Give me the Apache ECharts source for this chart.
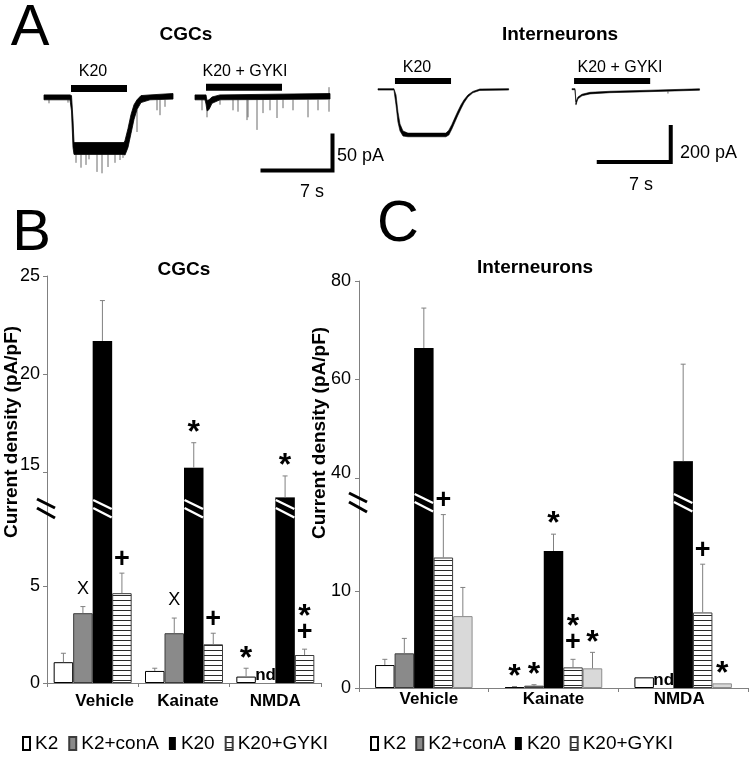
<!DOCTYPE html>
<html><head><meta charset="utf-8">
<script src="https://cdn.jsdelivr.net/npm/echarts@6/dist/echarts.min.js"></script>
<style>html,body{margin:0;padding:0;background:#fff}#c{width:750px;height:760px}</style>
</head><body><div id="c"></div>
<script>
// ================= DATA =================
// ---- Panel A: recordings. Bands are [time s, upper edge pA, lower edge pA]; minis are [time s, from pA, to pA]
const cgcK20Trace = [[0,3,-4],[2.6,3,-4],[2.75,2,-20],[2.9,-33,-72],[3.0,-65,-82],[8.0,-65,-82],[8.1,-62,-83],[8.4,-45,-72],[8.7,-25,-52],[9.0,-11,-32],[9.3,-4,-18],[9.7,2,-8],[10.6,3,-4],[12.9,5,-3]];
const cgcK20Minis = [[0.5,-4,-9],[2.4,-4,-8],[3.2,-82,-94],[3.7,-82,-101],[4.2,-82,-97],[4.5,-82,-89],[5.3,-82,-107],[5.8,-82,-109],[6.4,-82,-100],[7.1,-82,-94],[7.6,-82,-90],[7.9,-82,-87],[9.3,-18,-50],[11.3,-4,-19],[11.6,-4,-26],[12.1,-4,-14]];
const cgcGykiTrace = [[0,3,-4],[1.0,3,-4],[1.1,3,-10],[1.2,-5,-20],[1.4,-4,-18],[1.7,0,-9],[2.5,3,-4],[13.5,5,-3]];
const cgcGykiMinis = [[0.7,-4,-19],[1.2,-20,-29],[2.5,-4,-11],[3.8,-4,-19],[4.3,-4,-21],[5.2,-4,-33],[5.3,-4,-29],[6.2,-4,-47],[6.8,-4,-23],[7.5,-4,-19],[8.2,-4,-30],[8.8,-4,-16],[9.8,-4,-19],[11.3,-4,-29],[12.3,-4,-19],[13.4,-4,-21],[13.4,3,14]];
const intK20Trace = [[0,2,-6],[1.55,2,-6],[1.75,-34,-91],[1.94,-131,-189],[2.14,-200,-240],[2.43,-240,-269],[2.91,-252,-273],[6.6,-252,-273],[6.89,-235,-263],[7.18,-203,-229],[7.48,-163,-189],[7.77,-126,-150],[8.06,-91,-114],[8.35,-63,-80],[8.74,-34,-46],[9.22,-14,-22],[9.9,0,-8],[12.7,2,-6]];
const intGykiTrace = [[0,2,-4],[0.29,2,-4],[0.39,-72,-88],[0.58,-46,-56],[0.97,-30,-39],[1.75,-19,-28],[3.69,-13,-21],[7.58,-7,-15],[12.4,1,-7]];
const intGykiMinis = [[0.39,-80,-92],[9.33,-14,-26]];
// drug application bars: [start s, end s, level pA]
const stimCgcK20 = [2.7, 8.3, 12];
const stimCgcGyki = [1.1, 8.7, 14];
const stimIntK20 = [1.65, 7.1, 46];
const stimIntGyki = [0.2, 7.6, 46];
// scale bars (7 s, 50 pA / 200 pA)
const scaleCgc = [[6.75,-105],[13.75,-105],[13.75,-55]];
const scaleInt = [[2.6,-417],[9.6,-417],[9.6,-217]];

// ---- Panel B: CGCs (pA/pF)
const catsB = ['Vehicle', 'Kainate', 'NMDA'];
const groupsB = ['K2', 'K2+conA', 'K20', 'K20+GYKI'];
const meanB_K2 = [1.07, 0.62, 0.33];
const errB_K2 = [0.46, 0.14, 0.43];
const meanB_conA = [3.59, 2.56, null];
const errB_conA = [0.34, 0.78, null];
const meanB_K20 = [21.7, 15.25, 13.74];
const errB_K20 = [2.05, 1.27, 1.09];
const meanB_GYKI = [4.62, 1.99, 1.44];
const errB_GYKI = [1.03, 0.57, 0.30];
const markB_K2 = ['', '', '*'];
const markB_conA = ['X', 'X', 'nd'];
const markB_K20 = ['', '*', '*'];
const markB_GYKI = ['+', '+', '*+'];
const ticksB_low = [0, 5];
const ticksB_high = [15, 20, 25];
const rangeB_low = [0, 9];
const rangeB_high = [13.2, 25];

// ---- Panel C: Interneurons (pA/pF)
const catsC = ['Vehicle', 'Kainate', 'NMDA'];
const groupsC = ['K2', 'K2+conA', 'K20', 'K20+GYKI', 'NMDA'];
const meanC_K2 = [2.37, 0.1, 1.1];
const errC_K2 = [0.59, 0.05, 0];
const meanC_conA = [3.58, 0.24, null];
const errC_conA = [1.54, 0.1, null];
const meanC_K20 = [66.4, 14.15, 43.4];
const errC_K20 = [8.1, 1.73, 19.7];
const meanC_GYKI = [13.47, 2.13, 7.8];
const errC_GYKI = [4.43, 0.83, 4.98];
const meanC_NMDA = [7.42, 2.03, 0.48];
const errC_NMDA = [2.96, 1.65, 0];
const markC_K2 = ['', '*', ''];
const markC_conA = ['', '*', 'nd'];
const markC_K20 = ['', '*', ''];
const markC_GYKI = ['+', '*+', '+'];
const markC_NMDA = ['', '*', '*'];
const ticksC_low = [0, 10];
const ticksC_high = [40, 60, 80];
const rangeC_low = [0, 19.2];
const rangeC_high = [35.1, 80];

// ================= STYLE / LAYOUT =================
const FF = '"Liberation Sans", Arial, Helvetica, sans-serif';
// label nudges (layout only): category label shift in px, raised tick labels in px
const catShiftB = { 'Vehicle': 12, 'Kainate': 4 };
const catShiftC = { 'Vehicle': 5, 'NMDA': -4 };
const tickRaiseB = { 15: 8 };
const tickRaiseC = { 40: 5 };

const stripe = document.createElement('canvas');
stripe.width = 4; stripe.height = 5;
(function(){ const g = stripe.getContext('2d'); g.fillStyle = '#fff'; g.fillRect(0,0,4,5); g.fillStyle = '#2a2a2a'; g.fillRect(0,0,4,1); })();
const barStyle = {
  'K2': { color: '#ffffff', borderColor: '#000', borderWidth: 1 },
  'K2+conA': { color: '#8a8a8a', borderColor: '#3c3c3c', borderWidth: 1 },
  'K20': { color: '#000000', borderColor: '#000', borderWidth: 0 },
  'K20+GYKI': { color: { image: stripe, repeat: 'repeat' }, borderColor: '#3c3c3c', borderWidth: 1 },
  'NMDA': { color: '#d9d9d9', borderColor: '#8c8c8c', borderWidth: 1 }
};
const MF = {
  '*': 'bold 32px ' + FF,
  '+': 'bold 27px ' + FF,
  'X': 'normal 18px ' + FF,
  'nd': 'bold 17px ' + FF
};
const LIFT = { '*': 9.5, '+': 14, 'X': 18 };

function seg(x1, y1, x2, y2, stroke, w) {
  return { type: 'line', shape: { x1, y1, x2, y2 }, style: { stroke, lineWidth: w } };
}
function txt(s, x, y, font) {
  return { type: 'text', style: { text: s, x, y, font, fill: '#000', textAlign: 'center', textVerticalAlign: 'middle', align: 'center', verticalAlign: 'middle' } };
}

// ================= PANEL A SERIES =================
function bandS(gi, data, lw) {
  return { type: 'custom', xAxisIndex: gi, yAxisIndex: gi, silent: true, z: 3,
    data: data.map(d => [d[0], d[1]]),
    renderItem(params, api) {
      if (params.dataIndex !== 0) return { type: 'group', children: [] };
      const up = data.map(d => api.coord([d[0], d[1]]));
      const dn = data.slice().reverse().map(d => api.coord([d[0], d[2]]));
      return { type: 'polygon', shape: { points: up.concat(dn) }, style: { fill: '#000', stroke: '#000', lineWidth: lw } };
    } };
}
function minisS(gi, data) {
  return { type: 'custom', xAxisIndex: gi, yAxisIndex: gi, silent: true, z: 2,
    data: data.map(d => [d[0], d[2]]),
    renderItem(params, api) {
      const m = data[params.dataIndex];
      const a = api.coord([m[0], m[1]]), b = api.coord([m[0], m[2]]);
      return seg(a[0], a[1], b[0], b[1], '#6a6a6a', 1);
    } };
}
function stimS(gi, s, w) {
  return { type: 'line', xAxisIndex: gi, yAxisIndex: gi, silent: true, symbol: 'none',
    data: [[s[0], s[2]], [s[1], s[2]]], lineStyle: { color: '#000', width: w, cap: 'butt' } };
}
function scaleS(gi, d) {
  return { type: 'line', xAxisIndex: gi, yAxisIndex: gi, silent: true, symbol: 'none',
    data: d, lineStyle: { color: '#000', width: 4, join: 'miter', cap: 'square' } };
}

// ================= PANELS B / C =================
const PB = { id: 'B', gridLow: 4, gridHigh: 5, cats: catsB, groups: groupsB,
  means: [meanB_K2, meanB_conA, meanB_K20, meanB_GYKI], errs: [errB_K2, errB_conA, errB_K20, errB_GYKI],
  marks: [markB_K2, markB_conA, markB_K20, markB_GYKI], lowMax: rangeB_low[1], barW: 19.5 };
const PC = { id: 'C', gridLow: 6, gridHigh: 7, cats: catsC, groups: groupsC,
  means: [meanC_K2, meanC_conA, meanC_K20, meanC_GYKI, meanC_NMDA], errs: [errC_K2, errC_conA, errC_K20, errC_GYKI, errC_NMDA],
  marks: [markC_K2, markC_conA, markC_K20, markC_GYKI, markC_NMDA], lowMax: rangeC_low[1], barW: 19.5 };

function deco(P, part) {
  const items = [];
  P.groups.forEach((g, bi) => P.cats.forEach((c, ci) => items.push({ ci, bi, mean: P.means[bi][ci], err: P.errs[bi][ci], mark: P.marks[bi][ci] })));
  const gi = part === 'low' ? P.gridLow : P.gridHigh;
  return { type: 'custom', xAxisIndex: gi, yAxisIndex: gi, silent: true, z: 5,
    data: items.map(it => [it.ci, it.mean == null ? 0 : it.mean]),
    renderItem(params, api) {
      const it = items[params.dataIndex];
      const cs = params.coordSys;
      const n = P.groups.length;
      const cx = api.coord([it.ci, 0])[0] + (it.bi - (n - 1) / 2) * P.barW;
      const kids = [];
      if (part === 'low' && params.dataIndex === 0) {
        kids.push(seg(cs.x - 10, cs.y - 9, cs.x + 8, cs.y, '#000', 3));
        kids.push(seg(cs.x - 10, cs.y, cs.x + 8, cs.y + 10, '#000', 3));
      }
      if (it.mean == null) {
        if (part === 'low' && it.mark) kids.push(txt(it.mark, cx, api.coord([it.ci, 0])[1] - 8, MF.nd));
        return { type: 'group', children: kids };
      }
      const high = it.mean > P.lowMax;
      if (part === 'low' && high) {
        const L = cx - P.barW / 2 + 0.5, R = cx + P.barW / 2 - 0.5;
        kids.push(seg(L, cs.y - 8, R, cs.y + 1, '#fff', 2.5));
        kids.push(seg(L, cs.y, R, cs.y + 9.5, '#fff', 2.5));
      }
      if ((part === 'high') === high) {
        const yBar = api.coord([it.ci, it.mean])[1];
        const yTop = api.coord([it.ci, it.mean + it.err])[1];
        if (it.err > 0) {
          kids.push(seg(cx, yBar, cx, yTop, '#808080', 1));
          kids.push(seg(cx - 2.5, yTop, cx + 2.5, yTop, '#808080', 1));
        }
        if (it.mark === '*+') {
          kids.push(txt('+', cx, yTop - 17, MF['+']));
          kids.push(txt('*', cx, yTop - 32, MF['*']));
        } else if (it.mark) {
          kids.push(txt(it.mark, cx, yTop - LIFT[it.mark], MF[it.mark]));
        }
      }
      return { type: 'group', children: kids };
    } };
}
function panelSeries(P) {
  const out = [];
  P.groups.forEach((g, bi) => {
    const st = barStyle[g];
    out.push({ type: 'bar', name: P.id + ':' + g, xAxisIndex: P.gridLow, yAxisIndex: P.gridLow, silent: true,
      data: P.means[bi].map(v => v == null ? '-' : v), barWidth: P.barW, barGap: '0%', itemStyle: st });
    out.push({ type: 'bar', name: P.id + ':' + g, xAxisIndex: P.gridHigh, yAxisIndex: P.gridHigh, silent: true,
      data: P.means[bi].map(v => (v != null && v > P.lowMax) ? v : '-'), barWidth: P.barW, barGap: '0%', itemStyle: st });
  });
  out.push(deco(P, 'low'));
  out.push(deco(P, 'high'));
  return out;
}

// ================= AXES =================
const GRAY = '#808080';
function hidX(min, max, gi) { return { type: 'value', gridIndex: gi, min, max, show: false }; }
function catX(cats, gi, show, margin, shift) {
  const base = { color: '#000', fontSize: 17, fontWeight: 'bold', fontFamily: FF };
  const rich = {};
  cats.forEach((c, i) => {
    const s = shift[c] || 0;
    rich['c' + i] = Object.assign({}, base, { padding: s >= 0 ? [0, 0, 0, 2 * s] : [0, -2 * s, 0, 0] });
  });
  return { type: 'category', gridIndex: gi, data: cats, show,
    axisLine: { lineStyle: { color: GRAY, width: 1 } },
    axisTick: { show: true, length: 4, lineStyle: { color: GRAY } },
    axisLabel: Object.assign({}, base, { margin, interval: 0, hideOverlap: false, rich,
      formatter: (v) => '{c' + cats.indexOf(v) + '|' + v + '}' }) };
}
function valY(range, ticks, gi, margin, raise) {
  const base = { color: '#000', fontSize: 18, fontFamily: FF };
  const rich = { n: Object.assign({}, base) };
  Object.keys(raise).forEach(k => { rich['r' + k] = Object.assign({}, base, { padding: [0, 0, 2 * raise[k], 0] }); });
  return { type: 'value', gridIndex: gi, min: range[0], max: range[1],
    axisLine: { show: true, lineStyle: { color: GRAY, width: 1 } },
    axisTick: { show: true, length: 4, lineStyle: { color: GRAY }, customValues: ticks },
    axisLabel: Object.assign({}, base, { margin, customValues: ticks, rich, hideOverlap: false,
      formatter: (v) => raise[v] ? '{r' + v + '|' + v + '}' : '{n|' + v + '}' }),
    splitLine: { show: false } };
}
const gridBase = { containLabel: false, outerBoundsMode: 'none' };

const option = {
  animation: false,
  backgroundColor: '#fff',
  textStyle: { fontFamily: FF },
  grid: [
    Object.assign({ left: 44, top: 62, width: 140, height: 126 }, gridBase),
    Object.assign({ left: 195, top: 62, width: 150, height: 126 }, gridBase),
    Object.assign({ left: 378, top: 61, width: 144, height: 126 }, gridBase),
    Object.assign({ left: 572, top: 61, width: 144, height: 126 }, gridBase),
    Object.assign({ left: 47, top: 508, width: 274, height: 175 }, gridBase),
    Object.assign({ left: 47, top: 276, width: 274, height: 232 }, gridBase),
    Object.assign({ left: 359, top: 502, width: 389, height: 186 }, gridBase),
    Object.assign({ left: 359, top: 281, width: 389, height: 221 }, gridBase)
  ],
  xAxis: [
    hidX(0, 14, 0), hidX(0, 15, 1), hidX(0, 14, 2), hidX(0, 14, 3),
    catX(catsB, 4, true, 10, catShiftB), catX(catsB, 5, false, 10, {}),
    catX(catsC, 6, true, 3, catShiftC), catX(catsC, 7, false, 3, {})
  ],
  yAxis: [
    { type: 'value', gridIndex: 0, min: -130, max: 50, show: false },
    { type: 'value', gridIndex: 1, min: -130, max: 50, show: false },
    { type: 'value', gridIndex: 2, min: -560, max: 160, show: false },
    { type: 'value', gridIndex: 3, min: -560, max: 160, show: false },
    valY(rangeB_low, ticksB_low, 4, 7, {}), valY(rangeB_high, ticksB_high, 5, 7, tickRaiseB),
    valY(rangeC_low, ticksC_low, 6, 8, {}), valY(rangeC_high, ticksC_high, 7, 8, tickRaiseC)
  ],
  legend: [
    { left: 22, top: 734, padding: 0, itemWidth: 7, itemHeight: 13, itemGap: 10, selectedMode: false, icon: 'rect',
      data: groupsB.map(g => 'B:' + g), formatter: n => n.slice(2),
      textStyle: { fontSize: 19, color: '#000', fontFamily: FF } },
    { left: 370, top: 734, padding: 0, itemWidth: 7, itemHeight: 13, itemGap: 9, selectedMode: false, icon: 'rect',
      data: groupsC.map(g => 'C:' + g), formatter: n => n.slice(2),
      textStyle: { fontSize: 19, color: '#000', fontFamily: FF } }
  ],
  series: [
    minisS(0, cgcK20Minis), bandS(0, cgcK20Trace, 0.8), stimS(0, stimCgcK20, 7),
    minisS(1, cgcGykiMinis), bandS(1, cgcGykiTrace, 0.8), stimS(1, stimCgcGyki, 7), scaleS(1, scaleCgc),
    bandS(2, intK20Trace, 0.6), stimS(2, stimIntK20, 6),
    minisS(3, intGykiMinis), bandS(3, intGykiTrace, 0.6), stimS(3, stimIntGyki, 6), scaleS(3, scaleInt)
  ].concat(panelSeries(PB), panelSeries(PC)),
  graphic: { elements: [
    gt('A', 30, 29, 'normal 58px ' + FF),
    gt('B', 31.5, 234, 'normal 58px ' + FF),
    gt('C', 398, 225, 'normal 58px ' + FF),
    gt('CGCs', 186, 35, 'bold 19px ' + FF),
    gt('Interneurons', 560, 35, 'bold 19px ' + FF),
    gt('CGCs', 184, 270, 'bold 19px ' + FF),
    gt('Interneurons', 535, 268, 'bold 19px ' + FF),
    gt('K20', 93, 72, 'normal 16px ' + FF),
    gt('K20 + GYKI', 245, 72, 'normal 16px ' + FF),
    gt('K20', 417, 68, 'normal 16px ' + FF),
    gt('K20 + GYKI', 620, 68, 'normal 16px ' + FF),
    gt('50 pA', 337, 156, 'normal 18px ' + FF, 'left'),
    gt('7 s', 312, 192, 'normal 18px ' + FF),
    gt('200 pA', 680, 153, 'normal 18px ' + FF, 'left'),
    gt('7 s', 641, 185, 'normal 18px ' + FF),
    gt('Current density (pA/pF)', 12, 432, 'bold 19px ' + FF, 'center', Math.PI / 2),
    gt('Current density (pA/pF)', 320, 433, 'bold 19px ' + FF, 'center', Math.PI / 2)
  ] }
};
function gt(s, x, y, font, align, rot) {
  return { type: 'text', x, y, rotation: rot || 0, silent: true, z: 100,
    style: { text: s, font, fill: '#000', textAlign: align || 'center', textVerticalAlign: 'middle', align: align || 'center', verticalAlign: 'middle' } };
}
const chart = echarts.init(document.getElementById('c'), null, { renderer: 'canvas' });
chart.setOption(option);
</script>
</body></html>
